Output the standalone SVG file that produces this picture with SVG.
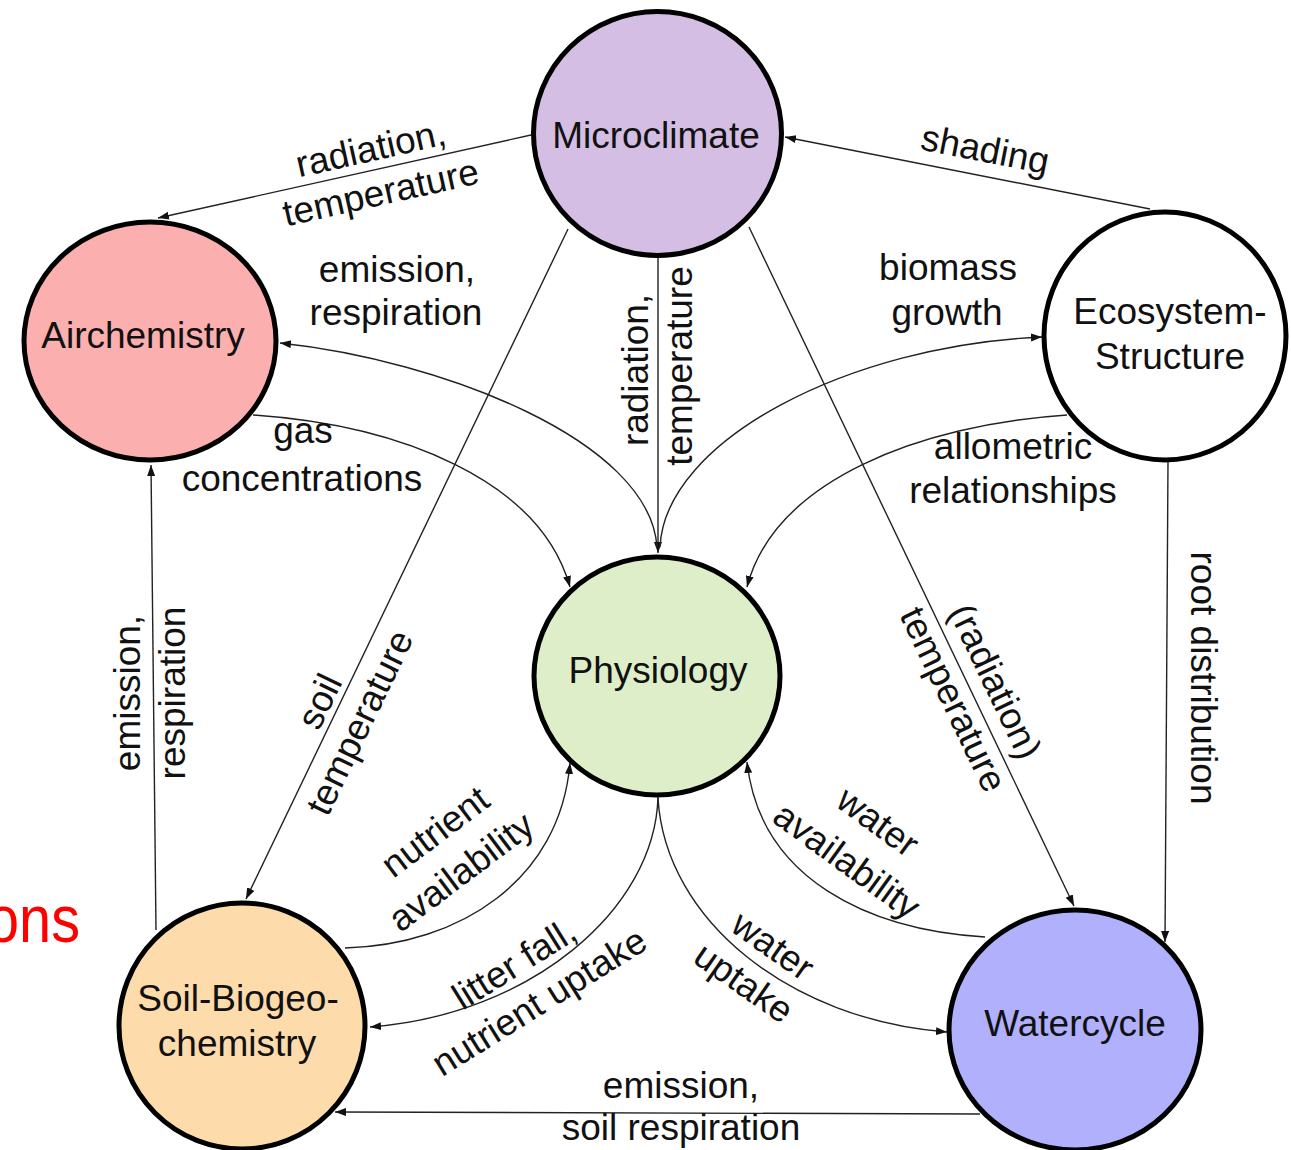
<svg xmlns="http://www.w3.org/2000/svg" width="1291" height="1150" viewBox="0 0 1291 1150">
<defs>
<style>
.node{stroke:#000;stroke-width:5}
.lbl{font-family:"Liberation Sans",Arial,sans-serif;font-size:37px;fill:#111;text-anchor:middle}
.edge{fill:none;stroke:#222;stroke-width:1.4;marker-end:url(#ah)}
</style>
<marker id="ah" markerWidth="12" markerHeight="10" refX="11" refY="4" orient="auto" markerUnits="userSpaceOnUse"><path d="M0,0 L11,4 L0,8 z" fill="#111"/></marker>
</defs>
<rect width="1291" height="1150" fill="#fff"/>
<g id="connectors">
<path class="edge" d="M531,135 L158,218"/>
<path class="edge" d="M1150,209 L785,137"/>
<path class="edge" d="M658,258 L658,553"/>
<path class="edge" d="M568,229 L246,899"/>
<path class="edge" d="M749,227 L1074,906"/>
<path class="edge" d="M1168,462 L1165,942"/>
<path class="edge" d="M156,930 L151,465"/>
<path class="edge" d="M980,1114 L335,1112"/>
<path class="edge" d="M657,547 C650,440 440,360 280,343"/>
<path class="edge" d="M253,415 C400,425 540,480 570,587"/>
<path class="edge" d="M660,547 C665,440 850,345 1042,337"/>
<path class="edge" d="M1067,415 C920,425 775,480 747,587"/>
<path class="edge" d="M345,948 C460,945 560,880 570,763"/>
<path class="edge" d="M658,797 C655,910 530,1015 370,1027"/>
<path class="edge" d="M658,798 C665,920 790,1020 947,1032"/>
<path class="edge" d="M985,937 C870,930 760,880 747,762"/>
<g class="lbl">
<text transform="translate(371,150) rotate(-12.6)" y="11">radiation,</text>
<text transform="translate(381,194) rotate(-12.6)" y="11">temperature</text>
<text transform="translate(985,151) rotate(11.1)" y="11">shading</text>
<text x="397" y="282">emission,</text>
<text x="396" y="325">respiration</text>
<text x="303" y="443">gas</text>
<text x="302" y="491">concentrations</text>
<text x="948" y="280">biomass</text>
<text x="947" y="325">growth</text>
<text x="1013" y="459">allometric</text>
<text x="1013" y="503">relationships</text>
<text transform="translate(648,370) rotate(-90)">radiation,</text>
<text transform="translate(692,366) rotate(-90)">temperature</text>
<text transform="translate(140,693) rotate(-90)">emission,</text>
<text transform="translate(185,693) rotate(-90)">respiration</text>
<text transform="translate(1191,678) rotate(90)">root distribution</text>
<text transform="translate(321,702) rotate(-64.3)" y="11">soil</text>
<text transform="translate(361,723) rotate(-64.3)" y="11">temperature</text>
<text transform="translate(994,682) rotate(64.4)" y="11">(radiation)</text>
<text transform="translate(952,700) rotate(64.4)" y="11">temperature</text>
<text transform="translate(436,833) rotate(-37)" y="11">nutrient</text>
<text transform="translate(462,873) rotate(-37)" y="11">availability</text>
<text transform="translate(515,965) rotate(-32)" y="11">litter fall,</text>
<text transform="translate(540,1003) rotate(-32)" y="11">nutrient uptake</text>
<text transform="translate(877,823) rotate(36)" y="11">water</text>
<text transform="translate(846,862) rotate(36)" y="11">availability</text>
<text transform="translate(772,947) rotate(35)" y="11">water</text>
<text transform="translate(743,984) rotate(35)" y="11">uptake</text>
<text x="681" y="1098">emission,</text>
<text x="681" y="1140">soil respiration</text>
</g>
</g>
<g id="microclimate"><ellipse class="node" cx="657.5" cy="133.5" rx="124" ry="122" fill="#d4bee3"/><text class="lbl" x="656" y="148">Microclimate</text></g>
<g id="airchemistry"><ellipse class="node" cx="150" cy="341" rx="126" ry="119" fill="#fbafaf"/><text class="lbl" x="143" y="348">Airchemistry</text></g>
<g id="ecosystem"><ellipse class="node" cx="1165" cy="336" rx="121" ry="124" fill="#fff"/><text class="lbl" x="1170" y="324">Ecosystem-</text><text class="lbl" x="1170" y="369">Structure</text></g>
<g id="physiology"><ellipse class="node" cx="657" cy="676" rx="123" ry="119" fill="#ddeec9"/><text class="lbl" x="658" y="683">Physiology</text></g>
<g id="soil"><ellipse class="node" cx="242" cy="1026" rx="123" ry="123" fill="#fddbab"/><text class="lbl" x="238" y="1011">Soil-Biogeo-</text><text class="lbl" x="237" y="1056">chemistry</text></g>
<g id="watercycle"><ellipse class="node" cx="1075" cy="1030" rx="126" ry="120" fill="#b0b0fc"/><text class="lbl" x="1075" y="1036">Watercycle</text></g>
<text x="-13" y="942" textLength="93" lengthAdjust="spacingAndGlyphs" font-family="'Liberation Sans',sans-serif" font-size="66" fill="#ff0000">ons</text>
</svg>
